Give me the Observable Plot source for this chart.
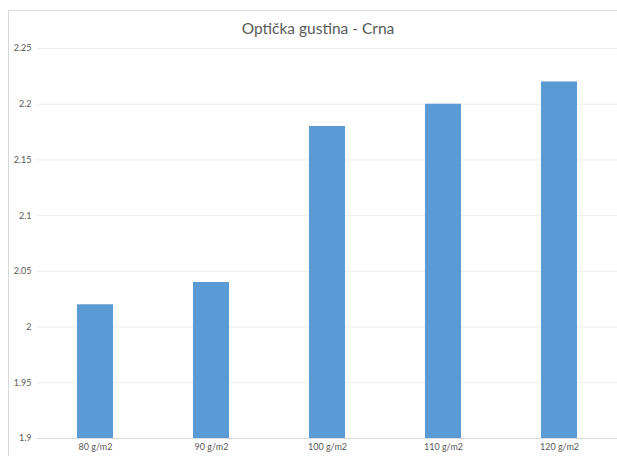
<!DOCTYPE html>
<html>
<head>
<meta charset="utf-8">
<script src="https://cdn.jsdelivr.net/npm/d3@7"></script>
<script src="https://cdn.jsdelivr.net/npm/@observablehq/plot@0.6"></script>
<style>
  html, body { margin: 0; padding: 0; background: #fff; overflow: hidden; }
  #wrap { position: relative; width: 617px; height: 456px; overflow: hidden; }
  #frame {
    position: absolute; left: 8px; top: 10px; width: 700px; height: 500px;
    border: 1px solid #d9d9d9; box-sizing: border-box;
  }
  #title {
    position: absolute; left: 0; top: 0; width: 636px; height: 38px;
    font-family: Lato, "Open Sans", sans-serif; font-size: 15.5px; color: #595959;
    text-align: center; line-height: 16px; padding-top: 20px; box-sizing: border-box;
    white-space: nowrap;
  }
  #chart { position: absolute; left: 0; top: 38px; }
</style>
</head>
<body>
<div id="wrap">
  <div id="frame"></div>
  <div id="title">Optička gustina - Crna</div>
  <div id="chart"></div>
</div>
<script>
// Paper grammage categories and measured optical density (black)
const grammages = ["80 g/m2", "90 g/m2", "100 g/m2", "110 g/m2", "120 g/m2"];
const densities = [2.02, 2.04, 2.18, 2.2, 2.22];
const yTicks = [1.9, 1.95, 2, 2.05, 2.1, 2.15, 2.2, 2.25];

const rows = grammages.map((g, i) => ({grammage: g, density: densities[i]}));

const chart = Plot.plot({
  width: 617,
  height: 418,
  marginTop: 10,
  marginBottom: 18,
  marginLeft: 37,
  marginRight: 0,
  style: {fontFamily: "Lato, 'Open Sans', sans-serif", fontSize: "9px", color: "#595959", background: "transparent"},
  x: {domain: grammages, paddingInner: 0.69, paddingOuter: 0.345, label: null},
  y: {domain: [1.9, 2.25], label: null},
  marks: [
    Plot.ruleY(yTicks.slice(1), {stroke: "#ececec", strokeWidth: 1}),
    Plot.barY(rows, {x: "grammage", y1: 1.9, y2: "density", fill: "#5b9bd5"}),
    Plot.ruleY([1.9], {stroke: "#d9d9d9", strokeWidth: 1}),
    Plot.axisY({ticks: yTicks, tickSize: 0, tickPadding: 6, tickFormat: d => String(d), label: null}),
    Plot.axisX({tickSize: 0, tickPadding: 5, label: null})
  ]
});
document.getElementById("chart").appendChild(chart);
</script>
</body>
</html>
